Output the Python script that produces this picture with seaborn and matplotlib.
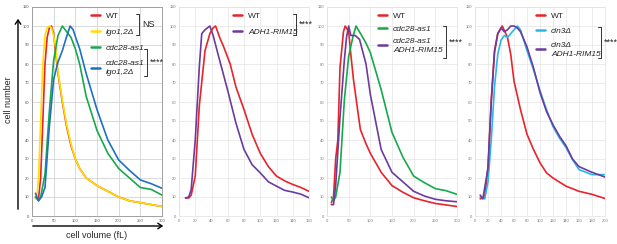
import numpy as np
import pandas as pd
import matplotlib
matplotlib.use('Agg')
import matplotlib.pyplot as plt
import seaborn as sns
from matplotlib.lines import Line2D

sns.set_style('white')
plt.rcParams['font.family'] = ['Liberation Sans', 'DejaVu Sans']

# ---- panel 1: cell volume 0-300 fL
p1_wt_x = [8, 15, 20, 25, 30, 35, 40, 45, 50, 55, 60, 70, 80, 90, 100, 110, 125, 150, 175, 200, 225, 250, 275, 300]
p1_wt_y = [10, 9, 20, 50, 80, 94, 99, 100, 96, 85, 75, 60, 47, 37, 30, 25, 20, 16, 13, 10, 8, 7, 6, 5]
p1_igo_x = [8, 12, 15, 20, 25, 30, 35, 40, 45, 50, 55, 60, 70, 80, 90, 100, 110, 125, 150, 175, 200, 225, 250, 275, 300]
p1_igo_y = [9, 12, 20, 50, 80, 95, 99, 100, 99, 95, 88, 76, 61, 48, 38, 30, 25, 20, 16, 13, 10, 8, 7, 6, 5]
p1_cdc_x = [8, 15, 20, 30, 40, 50, 60, 70, 80, 90, 100, 110, 125, 150, 175, 200, 225, 250, 275, 300]
p1_cdc_y = [10, 8, 10, 22, 55, 82, 95, 100, 97, 94, 88, 80, 63, 45, 33, 25, 20, 15, 14, 11]
p1_cdcigo_x = [8, 15, 22, 30, 40, 50, 60, 70, 80, 88, 95, 100, 110, 125, 150, 175, 200, 225, 250, 275, 300]
p1_cdcigo_y = [12, 8, 10, 15, 47, 72, 81, 87, 94.5, 100, 98, 94.5, 88, 75, 56, 40, 29.5, 24, 19, 17, 14.6]

# ---- panel 2: cell volume 0-160 fL
p2_wt_x = [8, 12, 15, 20, 25, 32, 38, 42, 45, 50, 55, 63, 70, 80, 90, 100, 110, 120, 130, 140, 150, 160]
p2_wt_y = [9.5, 9.5, 11, 21, 58, 87, 96, 99, 100, 94, 89, 80, 68, 56, 43, 33, 26, 21, 18.5, 16.6, 15, 13]
p2_rim_x = [8, 12, 15, 20, 25, 28, 32, 38, 42, 50, 60, 70, 80, 90, 100, 110, 120, 130, 140, 150, 160]
p2_rim_y = [9.5, 10, 14, 40, 78.5, 96, 98, 100, 95, 82, 66, 49, 35, 27, 22.7, 18, 15.7, 13.5, 12.6, 11.5, 9.6]

# ---- panel 3: cell volume 0-300 fL
p3_wt_x = [10, 15, 20, 25, 30, 38, 42, 50, 55, 61, 70, 77, 90, 100, 125, 150, 175, 200, 225, 250, 275, 300]
p3_wt_y = [7, 10, 30, 40, 78, 97, 100, 97, 85, 72, 57, 45.5, 38, 33, 23, 16, 12.5, 9.6, 8, 6.6, 5.8, 5]
p3_cdc_x = [10, 15, 20, 30, 40, 50, 60, 67, 80, 90, 100, 125, 150, 175, 200, 225, 250, 275, 300]
p3_cdc_y = [10, 8, 10, 23, 61, 84, 94.5, 100, 95, 91, 86, 66.5, 44, 31, 21, 17.5, 14.4, 13.3, 11.4]
p3_rim_x = [10, 15, 20, 30, 40, 45, 50, 55, 65, 75, 90, 100, 125, 150, 175, 200, 225, 250, 275, 300]
p3_rim_y = [6, 6, 16, 52, 82, 94, 100, 95, 95, 93, 80, 64, 35, 23, 18, 13, 10.5, 8.8, 8, 7.5]

# ---- panel 4: cell volume 0-200 fL
p4_wt_x = [8, 15, 20, 25, 30, 35, 42, 50, 55, 60, 70, 80, 90, 100, 110, 120, 140, 160, 180, 200]
p4_wt_y = [9, 10, 26, 61, 87, 96, 100, 94, 85, 71, 56, 43, 35, 28, 22.7, 20, 15.7, 13, 11.4, 9.2]
p4_cln_x = [8, 15, 20, 25, 30, 35, 40, 45, 50, 55, 60, 65, 70, 80, 90, 100, 110, 120, 130, 140, 150, 160, 180, 200]
p4_cln_y = [10, 9, 18, 40, 68, 85, 92.5, 95, 94, 96, 98, 100, 98, 87, 77, 66, 56, 47, 41, 36, 29.7, 24.4, 21.8, 21.8]
p4_rim_x = [8, 12, 20, 25, 30, 35, 40, 45, 50, 55, 60, 65, 70, 80, 90, 100, 110, 120, 130, 140, 150, 160, 180, 200]
p4_rim_y = [11, 9, 25, 60, 86, 96, 99, 97, 98, 100, 100, 99, 97, 89, 78, 65, 55, 48, 42, 37, 30, 26, 23, 20.5]

RED = '#e8232b'
YEL = '#ffe000'
GRN = '#17a84b'
BLU = '#1f6fc4'
PUR = '#6b3b9e'
CYN = '#2ab6e8'

panels = [
    dict(xmax=300, xstep=50, left=32, leg=(91, 12), sp=1.0,
         series=[('WT', p1_wt_x, p1_wt_y, RED), ('igo1,2\u0394', p1_igo_x, p1_igo_y, YEL),
                 ('cdc28-as1', p1_cdc_x, p1_cdc_y, GRN), ('cdc28-as1\nigo1,2\u0394', p1_cdcigo_x, p1_cdcigo_y, BLU)]),
    dict(xmax=160, xstep=20, left=179, leg=(233, 12), sp=1.0,
         series=[('WT', p2_wt_x, p2_wt_y, RED), ('ADH1-RIM15', p2_rim_x, p2_rim_y, PUR)]),
    dict(xmax=300, xstep=50, left=327, leg=(378, 12), sp=0.62,
         series=[('WT', p3_wt_x, p3_wt_y, RED), ('cdc28-as1', p3_cdc_x, p3_cdc_y, GRN),
                 ('cdc28-as1\nADH1-RIM15', p3_rim_x, p3_rim_y, PUR)]),
    dict(xmax=200, xstep=20, left=475, leg=(536, 12), sp=0.85,
         series=[('WT', p4_wt_x, p4_wt_y, RED), ('cln3\u0394', p4_cln_x, p4_cln_y, CYN),
                 ('cln3\u0394\nADH1-RIM15', p4_rim_x, p4_rim_y, PUR)]),
]

W, H = 617, 244
fig = plt.figure(figsize=(W / 100, H / 100), dpi=100)

def fx(px):
    return px / W

def fy(py):
    return 1 - py / H

axes = []
for i, p in enumerate(panels):
    ax = fig.add_axes([fx(p['left']), fy(216), 130 / W, 209 / H])
    rows = []
    for name, xs, ys, col in p['series']:
        for x, y in zip(xs, ys):
            rows.append({'vol': x, 'count': y, 'strain': name})
    df = pd.DataFrame(rows)
    pal = {name: col for name, xs, ys, col in p['series']}
    sns.lineplot(data=df, x='vol', y='count', hue='strain', palette=pal, ax=ax,
                 estimator=None, sort=False, lw=1.2, legend=False)
    ax.set_xlim(0, p['xmax'])
    ax.set_ylim(0, 110)
    ax.set_xticks(np.arange(0, p['xmax'] + 1, p['xstep']))
    ax.set_yticks(np.arange(0, 111, 10))
    ax.tick_params(labelsize=3, colors='#555555' if i == 0 else '#777777', length=0, pad=2)
    ax.grid(True, color='#cccccc' if i == 0 else '#e4e4e4', lw=0.5)
    ax.set_axisbelow(True)
    ax.set_xlabel('')
    ax.set_ylabel('')
    for s in ax.spines.values():
        if i == 0:
            s.set_color('#a0a0a0')
            s.set_linewidth(0.7)
        else:
            s.set_color('#e0e0e0')
            s.set_linewidth(0.5)
    axes.append(ax)

# legends
for ax, p in zip(axes, panels):
    lx, ly = p['leg']
    handles = [Line2D([], [], color=col, lw=1.8) for name, xs, ys, col in p['series']]
    labels = [name for name, xs, ys, col in p['series']]
    leg = ax.legend(handles, labels, loc='upper left', bbox_to_anchor=(fx(lx), fy(ly)),
                    bbox_transform=fig.transFigure, frameon=False, fontsize=6,
                    handlelength=1.1, handletextpad=0.7, labelspacing=p['sp'], borderpad=0,
                    borderaxespad=0)
    for t in leg.get_texts():
        t.set_linespacing(1.35)
        if t.get_text() != 'WT':
            t.set_fontstyle('italic')

def bracket(x, y0, y1, label, tx):
    fig.add_artist(Line2D([fx(x), fx(x)], [fy(y0), fy(y1)], color='#333333', lw=0.7))
    fig.add_artist(Line2D([fx(x - 3), fx(x)], [fy(y0), fy(y0)], color='#333333', lw=0.7))
    fig.add_artist(Line2D([fx(x - 3), fx(x)], [fy(y1), fy(y1)], color='#333333', lw=0.7))
    fig.text(fx(tx), fy((y0 + y1) / 2), label, fontsize=6.5, va='center', ha='left', color='#222222')

bracket(139, 14, 35, 'NS', 142)
bracket(147, 49, 76, '****', 150)
bracket(296, 14, 35, '****', 299)
bracket(446, 26, 58, '****', 449)
bracket(601, 27, 58, '****', 604)

# axis arrows and labels for first panel
fig.add_artist(matplotlib.patches.FancyArrowPatch((fx(18), fy(212)), (fx(18), fy(16)),
               transform=fig.transFigure, arrowstyle='->,head_width=2,head_length=3',
               lw=1.0, color='black', mutation_scale=1))
fig.add_artist(matplotlib.patches.FancyArrowPatch((fx(30), fy(226)), (fx(166), fy(226)),
               transform=fig.transFigure, arrowstyle='->,head_width=2,head_length=3',
               lw=1.0, color='black', mutation_scale=1))
fig.text(fx(9), fy(100), 'cell number', rotation=90, fontsize=6.5, ha='center', va='center')
fig.text(fx(97), fy(235), 'cell volume (fL)', fontsize=6.5, ha='center', va='center')

fig.savefig('out.png', dpi=100)
